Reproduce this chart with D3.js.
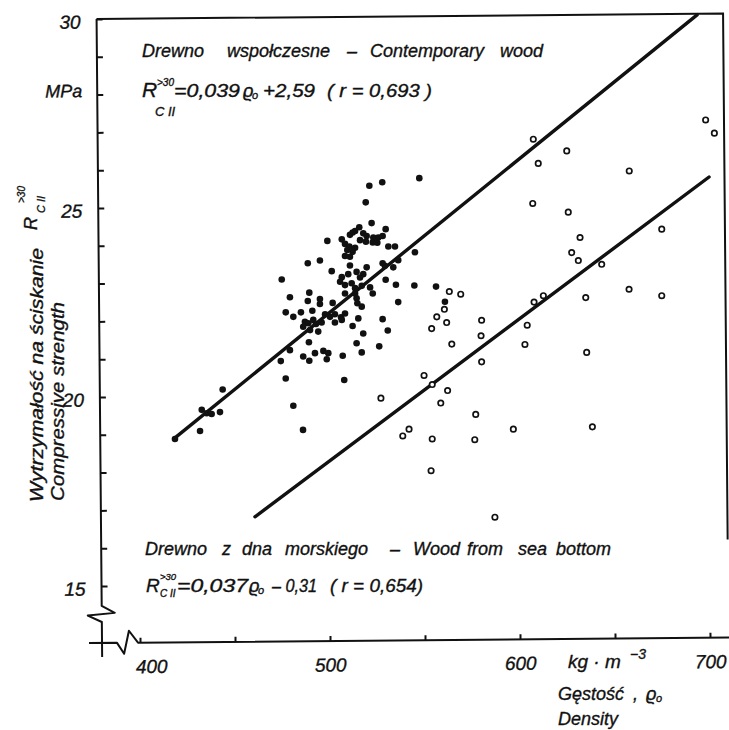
<!DOCTYPE html>
<html><head><meta charset="utf-8">
<script src="https://cdn.jsdelivr.net/npm/d3@7"></script>
<style>
html,body{margin:0;padding:0;background:#fff;}
svg{display:block;background:#fff;}
text{font-family:"Liberation Sans","DejaVu Sans",sans-serif;font-style:italic;fill:#111;stroke:#111;stroke-width:0.35px;}
</style></head><body>
<svg id="chart" width="729" height="730"></svg>
<script>
// ---- data (density kg·m^-3, compressive strength MPa) ----
const contemporaryDensity = [547.0,520.7,527.5,518.8,521.9,515.4,529.3,513.2,510.5,511.9,517.5,519.3,522.8,525.4,527.7,515.8,518.9,522.5,524.9,506.2,498.6,507.9,510.2,513.2,511.9,530.7,534.2,509.1,507.9,510.5,544.7,535.9,494.7,488.3,527.7,528.9,533.3,510.5,519.3,500.9,509.6,514.0,517.5,515.8,506.2,505.3,507.9,511.4,513.2,516.7,521.1,522.5,529.3,534.7,544.4,474.6,489.1,478.9,494.7,488.3,494.7,507.9,513.2,514.0,514.4,516.7,501.4,535.9,476.7,480.7,484.7,490.7,497.4,500.0,502.6,505.8,507.9,486.8,488.6,491.2,492.6,495.6,502.6,506.2,485.9,489.5,493.8,511.9,514.9,517.5,527.7,530.4,488.9,514.0,516.7,525.9,478.9,485.9,489.1,492.1,496.5,499.1,498.3,506.7,474.1,476.7,507.5,555.8,560.5,480.7,485.8,418.4,431.6,432.5,435.1,437.7,442.1,443.5];
const contemporaryStrength = [25.79,25.59,25.68,25.15,24.60,24.49,24.44,24.39,24.29,24.35,24.33,24.26,24.22,24.22,24.26,24.15,24.11,24.09,24.08,24.17,24.13,24.05,23.98,23.95,23.84,23.98,23.98,23.89,23.73,23.71,23.83,23.62,23.61,23.54,23.54,23.47,23.43,23.48,23.43,23.33,23.25,23.31,23.25,23.16,23.17,23.05,22.96,23.01,22.88,22.94,22.90,22.74,23.10,22.97,22.95,23.11,22.76,22.64,22.59,22.54,22.46,22.74,22.74,22.61,22.48,22.39,22.49,22.51,22.24,22.12,22.24,22.28,22.19,22.12,22.19,22.11,22.21,21.99,21.95,22.04,21.93,21.97,21.97,22.04,21.86,21.77,21.73,21.88,22.08,21.68,22.06,21.76,21.45,21.42,21.18,21.34,21.24,21.07,20.96,21.16,21.22,21.16,21.00,21.09,20.95,20.49,20.45,22.92,22.52,19.77,19.13,18.89,19.10,19.66,19.57,19.55,19.60,20.20];
const seaDensity = [607.0,624.6,609.6,657.5,697.7,702.3,606.7,625.4,631.6,674.6,627.2,630.7,643.0,562.8,568.8,560.2,556.2,561.4,553.5,579.8,579.5,579.8,564.1,549.5,553.8,561.9,558.3,541.6,538.3,553.8,553.2,576.7,576.2,596.5,586.8,602.6,603.8,607.4,612.3,634.6,635.1,638.1,657.4,674.6,526.8];
const seaStrength = [26.82,26.51,26.18,25.98,27.33,26.98,25.12,24.89,24.22,24.44,23.82,23.61,23.51,22.79,22.72,22.32,22.12,21.97,21.81,22.03,21.62,20.93,21.40,20.57,20.33,20.17,19.84,19.15,18.97,18.89,18.05,19.54,18.87,19.15,16.82,21.39,21.90,22.51,22.68,22.63,21.18,19.21,22.85,22.68,19.97];
// regression lines as drawn (end points)
const contemporaryLineDensity = [418.4, 693.2];
const contemporaryLineStrength = [18.92, 30.11];
const seaLineDensity = [460.5, 699.5];
const seaLineStrength = [16.83, 25.82];
// ticks
const yTicks = [15,16,17,18,19,20,21,22,23,24,25,26,27,28,29,30];
const yTickLabels = [15,20,25,30];
const xTicks = [400,450,500,550,600,650,700];
const xTickLabels = [400,500,600,700];

// ---- drawing ----
const ink = "#111";
const svg = d3.select("#chart");
const x = d3.scaleLinear().domain([400,700]).range([140,710]);
const y = d3.scaleLinear().domain([15,30]).range([586,19]);
const axisX = 102, axisY = 643;

const frame = svg.append("g").attr("transform","rotate(-0.5,100,640)");
frame.append("path")
  .attr("d",`M${axisX},${y(30)}H728.5V545`)
  .attr("fill","none").attr("stroke",ink).attr("stroke-width",2);
frame.append("path")
  .attr("d",`M${axisX},${y(30)}V606L115,613L88,615.5L${axisX},622V657`)
  .attr("fill","none").attr("stroke",ink).attr("stroke-width",2).attr("stroke-linejoin","round");
frame.append("path")
  .attr("d",`M89,${axisY}H117L124,654L129,631L138,${axisY}H729`)
  .attr("fill","none").attr("stroke",ink).attr("stroke-width",2).attr("stroke-linejoin","round");

const gy = frame.append("g").attr("transform",`translate(${axisX},0)`)
  .call(d3.axisLeft(y).tickValues(yTicks).tickSize(-6).tickPadding(16)
    .tickFormat(d => yTickLabels.includes(d) ? d : ""));
gy.select(".domain").remove();
gy.attr("font-family",null).attr("font-size",19);
gy.selectAll("line").attr("stroke",ink).attr("stroke-width",2);
gy.selectAll("text").attr("dy","0.47em");

const gx = frame.append("g").attr("transform",`translate(0,${axisY})`)
  .call(d3.axisBottom(x).tickValues(xTicks).tickSize(-5).tickPadding(30.5)
    .tickFormat(d => xTickLabels.includes(d) ? d : ""));
gx.select(".domain").remove();
gx.attr("font-family",null).attr("font-size",19);
gx.selectAll("line").attr("stroke",ink).attr("stroke-width",2);
gx.selectAll("text").attr("dy","0").attr("dx", d => d === 400 ? 11 : 0);

frame.append("text").attr("x",87).attr("y",97).attr("text-anchor","end")
  .attr("font-size",18).text("MPa");

// regression lines
const line = d3.line().x(d => x(d[0])).y(d => y(d[1]));
const l1 = contemporaryLineDensity.map((d,i) => [d, contemporaryLineStrength[i]]);
const l2 = seaLineDensity.map((d,i) => [d, seaLineStrength[i]]);
[l1,l2].forEach(l => svg.append("path").attr("d", line(l))
  .attr("fill","none").attr("stroke",ink).attr("stroke-width",3.4).attr("stroke-linecap","round"));

// points
svg.append("g").selectAll("circle")
  .data(contemporaryDensity.map((d,i) => [d, contemporaryStrength[i]]))
  .join("circle").attr("cx", d => x(d[0])).attr("cy", d => y(d[1]))
  .attr("r",3.3).attr("fill",ink);
svg.append("g").selectAll("circle")
  .data(seaDensity.map((d,i) => [d, seaStrength[i]]))
  .join("circle").attr("cx", d => x(d[0])).attr("cy", d => y(d[1]))
  .attr("r",2.7).attr("fill","#fff").attr("stroke",ink).attr("stroke-width",1.7);

// text helper
function t(parent, str, px, py, size, len) {
  const e = parent.append("text").attr("x",px).attr("y",py).attr("font-size",size).text(str);
  if (len) e.attr("textLength",len).attr("lengthAdjust","spacingAndGlyphs");
  return e;
}

// top annotation
[["Drewno",142],["wspołczesne",227],["–",347],["Contemporary",370],["wood",500]]
  .forEach(([w,px]) => t(svg,w,px,57,18));
t(svg,"R",142,97,21);
t(svg,">30",157,86,10);
t(svg,"C II",155,116,13);
t(svg,"=0,039",174,97,18,66);
t(svg,"ϱ",243,97,18);
t(svg,"o",252,99,11);
t(svg,"+2,59",263,97,18,52);
t(svg,"( r = 0,693 )",327,97,18,105);

// bottom annotation
[["Drewno",145],["z",222],["dna",242],["morskiego",285],["–",390],["Wood",413],["from",467],["sea",518],["bottom",556]]
  .forEach(([w,px]) => t(svg,w,px,555,18));
t(svg,"R",146,592,19);
t(svg,">30",160,580,9.5);
t(svg,"C II",160,597,10);
t(svg,"=0,037",177,592,18,71);
t(svg,"ϱ",249,592,18);
t(svg,"o",258,594,11);
t(svg,"– 0,31",272,592,18,45);
t(svg,"( r = 0,654)",330,592,18,93);

// x axis title
t(svg,"kg · m",568,668,19);
t(svg,"−3",630,659,14);
t(svg,"Gęstość",558,700,18);
t(svg,",",633,700,18);
t(svg,"ϱ",646,700,18);
t(svg,"o",656,702,11);
t(svg,"Density",558,725,18);

// y axis title (rotated)
const yt1 = svg.append("g").attr("transform","translate(43,502) rotate(-90)");
t(yt1,"Wytrzymałość na ściskanie",0,0,18,254);
const yt2 = svg.append("g").attr("transform","translate(64,501) rotate(-90)");
t(yt2,"Compressive strength",0,0,18,199);
const yr = svg.append("g").attr("transform","translate(37,230) rotate(-90)");
t(yr,"R",0,0,18);
t(yr,"C II",17,8,11);
t(yr,">30",27,-12,10);
</script>
</body></html>
